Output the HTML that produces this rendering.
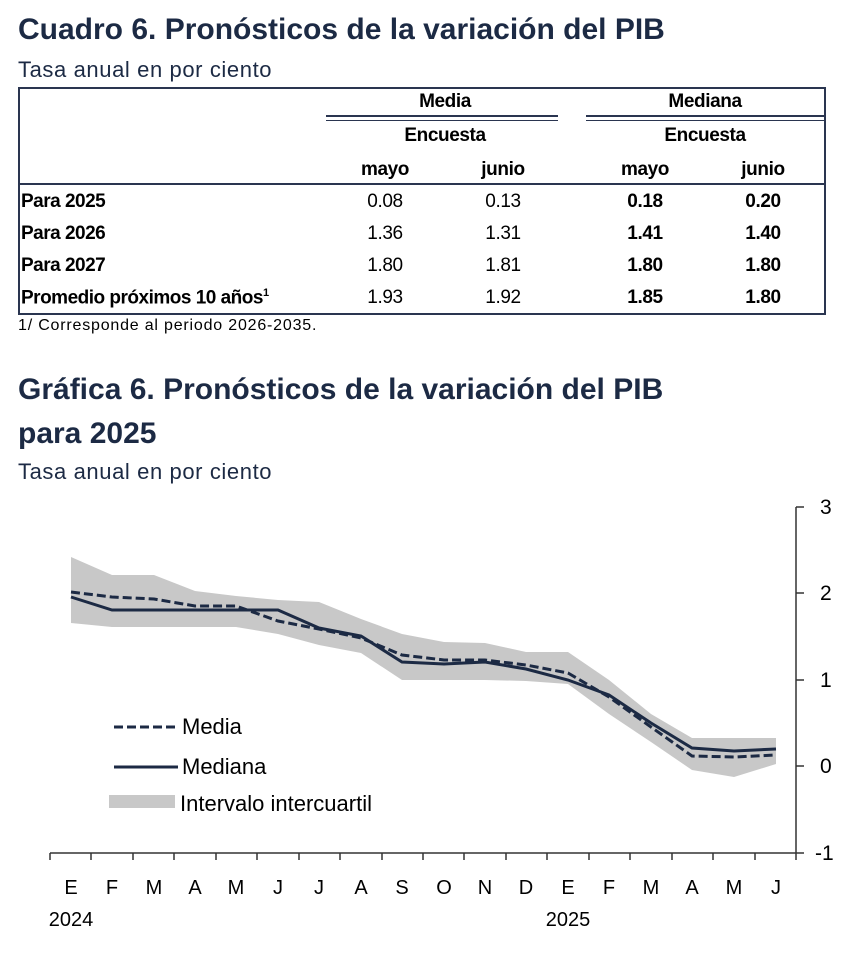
<!DOCTYPE html>
<html><head><meta charset="utf-8"><style>
body{margin:0;width:844px;height:964px;background:#fff;font-family:"Liberation Sans",sans-serif;color:#000;position:relative;overflow:hidden}
.t{position:absolute;white-space:nowrap}
.h{color:#1c2a44;font-weight:bold;font-size:30px;letter-spacing:0px}
.s{color:#1c2a44;font-size:22px;letter-spacing:0.6px}
.b{font-weight:bold}
.c{font-size:19px;text-align:center;width:90px;letter-spacing:-0.4px}
</style></head><body>
<div class="t h" style="left:18px;top:13px">Cuadro 6. Pronósticos de la variación del PIB</div>
<div class="t s" style="left:18px;top:57px">Tasa anual en por ciento</div>
<div style="position:absolute;left:18px;top:87px;width:804px;height:224px;border:2px solid #2a3550"></div>
<div style="position:absolute;left:18px;top:183px;width:806px;border-top:2px solid #2a3550"></div>
<div style="position:absolute;left:326px;top:115px;width:232px;height:3px;border-top:2px solid #2a3550;border-bottom:1px solid #2a3550"></div>
<div style="position:absolute;left:586px;top:115px;width:238px;height:3px;border-top:2px solid #2a3550;border-bottom:1px solid #2a3550"></div>
<div class="t b c" style="left:400px;top:91px">Media</div>
<div class="t b c" style="left:660px;top:91px">Mediana</div>
<div class="t b c" style="left:400px;top:125px">Encuesta</div>
<div class="t b c" style="left:660px;top:125px">Encuesta</div>
<div class="t b c" style="left:340px;top:159px">mayo</div>
<div class="t b c" style="left:458px;top:159px">junio</div>
<div class="t b c" style="left:600px;top:159px">mayo</div>
<div class="t b c" style="left:718px;top:159px">junio</div>
<div class="t b" style="left:21px;top:191px;font-size:19px;letter-spacing:-0.5px">Para 2025</div>
<div class="t b" style="left:21px;top:223px;font-size:19px;letter-spacing:-0.5px">Para 2026</div>
<div class="t b" style="left:21px;top:255px;font-size:19px;letter-spacing:-0.5px">Para 2027</div>
<div class="t b" style="left:21px;top:287px;font-size:19px;letter-spacing:-0.5px">Promedio próximos 10 años<sup style="font-size:11px">1</sup></div>
<div class="t c" style="left:340px;top:191px">0.08</div><div class="t c" style="left:458px;top:191px">0.13</div><div class="t c b" style="left:600px;top:191px">0.18</div><div class="t c b" style="left:718px;top:191px">0.20</div>
<div class="t c" style="left:340px;top:223px">1.36</div><div class="t c" style="left:458px;top:223px">1.31</div><div class="t c b" style="left:600px;top:223px">1.41</div><div class="t c b" style="left:718px;top:223px">1.40</div>
<div class="t c" style="left:340px;top:255px">1.80</div><div class="t c" style="left:458px;top:255px">1.81</div><div class="t c b" style="left:600px;top:255px">1.80</div><div class="t c b" style="left:718px;top:255px">1.80</div>
<div class="t c" style="left:340px;top:287px">1.93</div><div class="t c" style="left:458px;top:287px">1.92</div><div class="t c b" style="left:600px;top:287px">1.85</div><div class="t c b" style="left:718px;top:287px">1.80</div>
<div class="t" style="left:18px;top:317px;font-size:16px;letter-spacing:0.8px">1/ Corresponde al periodo 2026-2035.</div>
<div class="t h" style="left:18px;top:373px">Gráfica 6. Pronósticos de la variación del PIB</div>
<div class="t h" style="left:18px;top:417px">para 2025</div>
<div class="t s" style="left:18px;top:459px">Tasa anual en por ciento</div>
<svg style="position:absolute;left:0;top:0" width="844" height="964" font-family="Liberation Sans, sans-serif">
<polygon fill="#c8c8c8" points="71,557 112,575 154,575 195,591 236,596 278,600 319,602 361,619 402,634 444,642 485,643 526,652 568,652 609,680 651,714 692,738 734,738 776,738 776,764 734,777 692,770 651,742 609,714 568,684 526,681 485,680 444,680 402,680 361,653 319,645 278,634 236,627 195,627 154,627 112,627 71,623"/>
<polyline fill="none" stroke="#1c2a44" stroke-width="3" points="71,597 112,610 154,610 195,610 236,610 278,610 319,628 361,636 402,662 444,664 485,662 526,669 568,680 609,695 651,723 692,748 734,751 776,749"/>
<polyline fill="none" stroke="#1c2a44" stroke-width="3" stroke-dasharray="9,4" points="71,592 112,597 154,599 195,606 236,606 278,621 319,629 361,638 402,655 444,660 485,660 526,665 568,673 609,697 651,727 692,756 734,757 776,755"/>
<line x1="796" y1="507" x2="796" y2="853" stroke="#333" stroke-width="1.5"/>
<line x1="50" y1="853" x2="796" y2="853" stroke="#333" stroke-width="1.5"/>
<g stroke="#333" stroke-width="1.5">
<line x1="796" y1="507" x2="804" y2="507"/><line x1="796" y1="593" x2="804" y2="593"/><line x1="796" y1="680" x2="804" y2="680"/><line x1="796" y1="766" x2="804" y2="766"/><line x1="796" y1="853" x2="804" y2="853"/>
<line x1="50" y1="853" x2="50" y2="860"/><line x1="91" y1="853" x2="91" y2="860"/><line x1="133" y1="853" x2="133" y2="860"/><line x1="174" y1="853" x2="174" y2="860"/><line x1="216" y1="853" x2="216" y2="860"/><line x1="257" y1="853" x2="257" y2="860"/><line x1="299" y1="853" x2="299" y2="860"/><line x1="340" y1="853" x2="340" y2="860"/><line x1="382" y1="853" x2="382" y2="860"/><line x1="423" y1="853" x2="423" y2="860"/><line x1="464" y1="853" x2="464" y2="860"/><line x1="506" y1="853" x2="506" y2="860"/><line x1="547" y1="853" x2="547" y2="860"/><line x1="589" y1="853" x2="589" y2="860"/><line x1="630" y1="853" x2="630" y2="860"/><line x1="672" y1="853" x2="672" y2="860"/><line x1="713" y1="853" x2="713" y2="860"/><line x1="755" y1="853" x2="755" y2="860"/><line x1="796" y1="853" x2="796" y2="860"/>
</g>
<g font-size="21" fill="#000">
<text x="820" y="514">3</text><text x="820" y="600">2</text><text x="820" y="687">1</text><text x="820" y="773">0</text><text x="815" y="860">-1</text>
</g>
<g font-size="20" fill="#000" text-anchor="middle">
<text x="71" y="894">E</text><text x="112" y="894">F</text><text x="154" y="894">M</text><text x="195" y="894">A</text><text x="236" y="894">M</text><text x="278" y="894">J</text><text x="319" y="894">J</text><text x="361" y="894">A</text><text x="402" y="894">S</text><text x="444" y="894">O</text><text x="485" y="894">N</text><text x="526" y="894">D</text><text x="568" y="894">E</text><text x="609" y="894">F</text><text x="651" y="894">M</text><text x="692" y="894">A</text><text x="734" y="894">M</text><text x="776" y="894">J</text>
<text x="71" y="926">2024</text><text x="568" y="926">2025</text>
</g>
<line x1="114" y1="727" x2="178" y2="727" stroke="#1c2a44" stroke-width="3" stroke-dasharray="9,4"/>
<line x1="114" y1="767" x2="178" y2="767" stroke="#1c2a44" stroke-width="3"/>
<rect x="109" y="795" width="66" height="13" fill="#c8c8c8"/>
<g font-size="22" fill="#000"><text x="182" y="734">Media</text><text x="182" y="774">Mediana</text><text x="180" y="811">Intervalo intercuartil</text></g>
</svg>
</body></html>
